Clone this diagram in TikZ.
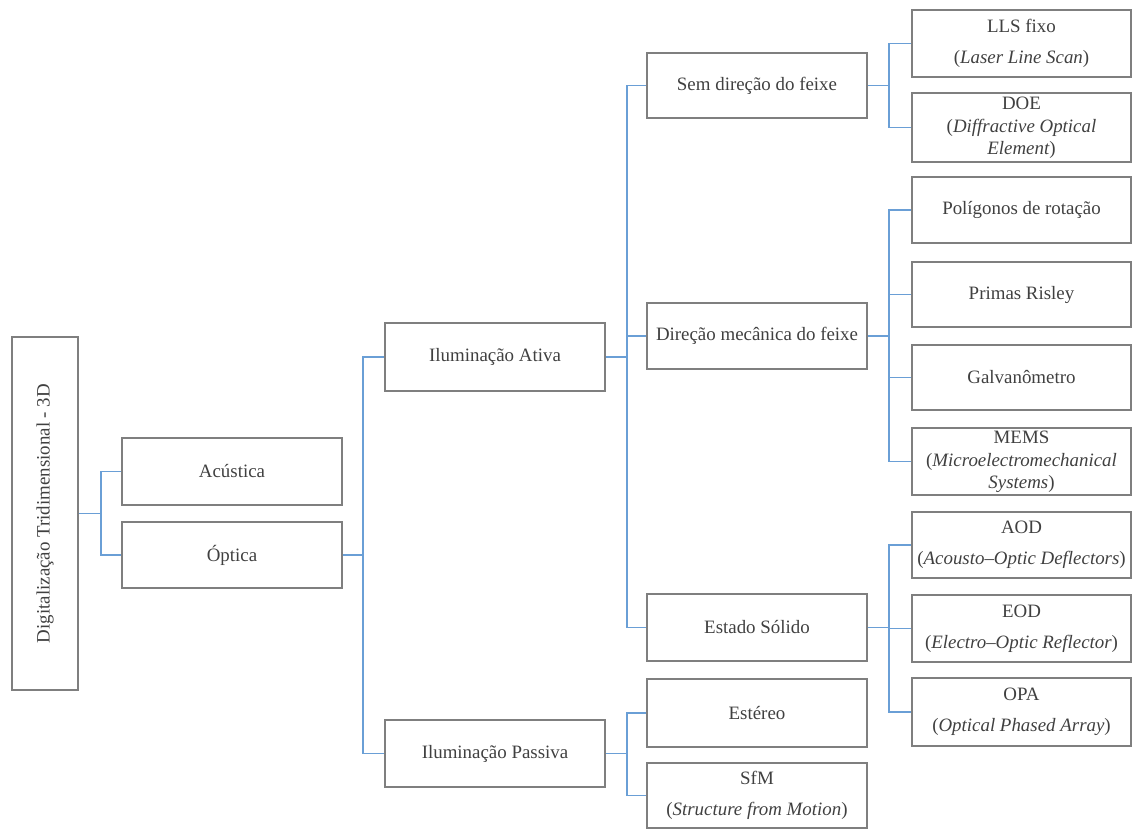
\documentclass[tikz,border=0pt]{standalone}
\usepackage{fontspec}
\setmainfont{Liberation Serif}
\usepackage{graphicx}
\definecolor{boxline}{HTML}{7F7F7F}
\definecolor{linkline}{HTML}{6A9FD6}
\definecolor{txt}{HTML}{404040}
\begin{document}
\begin{tikzpicture}[x=1pt,y=-1pt,
  box/.style={draw=boxline, line width=1.5pt, rectangle, inner sep=0pt, align=center,
    text=txt, font=\fontsize{18.9}{24}\selectfont, minimum width=220pt, minimum height=66pt},
  rbox/.style={box, minimum width=219pt},
  tight/.style={font=\fontsize{18.9}{21.5}\selectfont},
  link/.style={draw=linkline, line width=1.6pt}]
\useasboundingbox (0,0) rectangle (1133,830);
% root
\node[box, minimum width=66pt, minimum height=353pt] (root) at (45,513.5) {\rotatebox{90}{Digitalização Tridimensional - 3D}};
% level 1
\node[box, minimum height=67pt] (acu) at (232,471.5) {Acústica};
\node[box] (opt) at (232,555) {Óptica};
% level 2
\node[box, minimum height=68pt] (ativa) at (495,357) {Iluminação Ativa};
\node[box, minimum height=67pt] (passiva) at (495,753.5) {Iluminação Passiva};
% level 3
\node[box, minimum height=65pt] (sem) at (757,85.5) {Sem direção do feixe};
\node[box] (mec) at (757,336) {Direção mecânica do feixe};
\node[box, minimum height=67pt] (sol) at (757,627.5) {Estado Sólido};
\node[box, minimum height=68pt] (est) at (757,713) {Estéreo};
\node[box, minimum height=65pt] (sfm) at (757,795.5) {SfM\\[7pt]({\itshape Structure from Motion})};
% level 4
\node[rbox, minimum height=67pt] (lls) at (1021.5,43.5) {LLS fixo\\[7pt]({\itshape Laser Line Scan})};
\node[rbox, tight, minimum height=69pt] (doe) at (1021.5,127.5) {DOE\\[2pt]({\itshape Diffractive Optical}\\{\itshape Element})};
\node[rbox] (pol) at (1021.5,210) {Polígonos de rotação};
\node[rbox, minimum height=65pt] (pri) at (1021.5,294.5) {Primas Risley};
\node[rbox, minimum height=65pt] (gal) at (1021.5,377.5) {Galvanômetro};
\node[rbox, tight, minimum height=67pt] (mems) at (1021.5,461.5) {MEMS\\[2pt]({\itshape Microelectromechanical}\\{\itshape Systems})};
\node[rbox] (aod) at (1021.5,545) {AOD\\[7pt]({\itshape Acousto–Optic Deflectors})};
\node[rbox, minimum height=67pt] (eod) at (1021.5,628.5) {EOD\\[7pt]({\itshape Electro–Optic Reflector})};
\node[rbox, minimum height=68pt] (opa) at (1021.5,712) {OPA\\[7pt]({\itshape Optical Phased Array})};
% connectors
\foreach \c in {acu,opt} \draw[link] (root.east) -- ([xshift=22pt]root.east) |- (\c.west);
\foreach \c in {ativa,passiva} \draw[link] (opt.east) -- ([xshift=20pt]opt.east) |- (\c.west);
\foreach \c in {sem,mec,sol} \draw[link] (ativa.east) -- ([xshift=21pt]ativa.east) |- (\c.west);
\foreach \c in {est,sfm} \draw[link] (passiva.east) -- ([xshift=21pt]passiva.east) |- (\c.west);
\foreach \c in {lls,doe} \draw[link] (sem.east) -- ([xshift=21pt]sem.east) |- (\c.west);
\foreach \c in {pol,pri,gal,mems} \draw[link] (mec.east) -- ([xshift=21pt]mec.east) |- (\c.west);
\foreach \c in {aod,eod,opa} \draw[link] (sol.east) -- ([xshift=21pt]sol.east) |- (\c.west);
\end{tikzpicture}
\end{document}
